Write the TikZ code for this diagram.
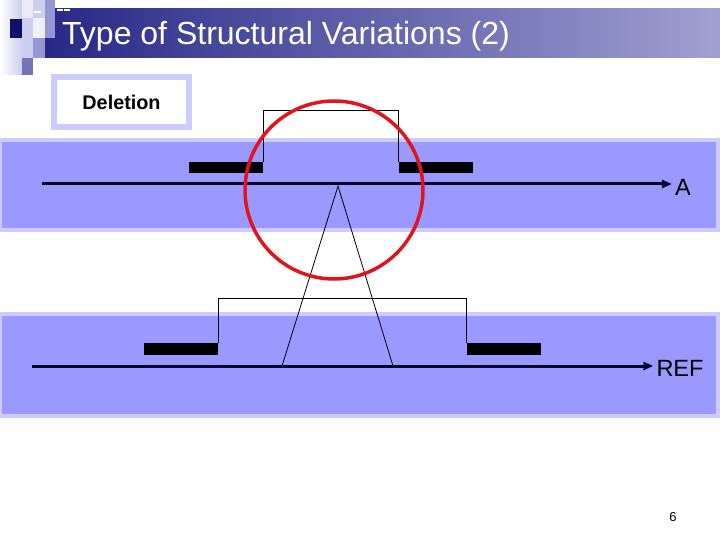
\documentclass[tikz,border=0pt]{standalone}
\usepackage{fontspec}
\setmainfont{Liberation Sans}
\usetikzlibrary{arrows.meta, positioning}

\definecolor{bandblue}{RGB}{153,153,255}
\definecolor{bandedge}{RGB}{204,204,255}
\definecolor{navy}{RGB}{15,15,110}
\definecolor{lavender}{RGB}{205,205,238}
\definecolor{midlav}{RGB}{150,150,210}
\definecolor{darklav}{RGB}{115,115,185}
\definecolor{circred}{RGB}{225,20,30}
\definecolor{titleleft}{RGB}{40,40,135}
\definecolor{titleright}{RGB}{160,160,210}

\begin{document}
\begin{tikzpicture}[
            x=1pt, y=-1pt,
            band/.style={draw=bandedge, line width=4pt, fill=bandblue},
            seq/.style={line width=3pt, draw=navy!40!black,
                -{Triangle[length=10pt,width=8pt]}},
            read/.style={fill=black, minimum width=74pt,
                minimum height=11.5pt, inner sep=0pt},
            link/.style={draw=black, line width=0.8pt},
            lab/.style={font=\fontsize{23.5}{26}\selectfont, inner sep=3pt}
        ]

        \useasboundingbox (0,0) rectangle (720,540);

        % title bar and corner tiles
        \shade[left color=titleleft, right color=titleright] (45,9) rectangle (720,58);
        \shade[left color=white, right color=lavender] (0,0) rectangle (22,75);
        \fill[navy] (10,19) rectangle (22,38);
        \fill[white!60!lavender] (22,0) rectangle (33,18);
        \fill[lavender] (33,0) rectangle (45,18);
        \fill[midlav] (45,0) rectangle (55,18);
        \fill[lavender] (22,18) rectangle (33,38);
        \fill[white!70!lavender] (33,18) rectangle (45,38);
        \fill[midlav] (45,18) rectangle (55,38);
        \fill[lavender] (22,38) rectangle (33,58);
        \fill[midlav] (33,38) rectangle (45,58);
        \fill[darklav] (22,58) rectangle (33,75);
        \fill[white] (34,11) rectangle (41,13);
        \fill[white] (57,9) rectangle (63,11);
        \fill[white] (64,9) rectangle (70,11);
        \node[anchor=west, text=white, inner sep=0pt,
            font=\fontsize{32}{35}\selectfont] (title) at (62,36)
            {Type of Structural Variations (2)};

        \node[draw=bandedge, line width=6pt, fill=white, minimum width=135pt,
            minimum height=50pt, font=\bfseries\fontsize{19.8}{22}\selectfont]
            (del) at (121.5,102) {Deletion};

        % the two sequences
        \path[band] (0,140) rectangle (718,230);
        \path[band] (0,314) rectangle (718,416);

        \node[read] (rdAl) at (226,167.5) {};
        \node[read] (rdAr) at (436,167.5) {};
        \node[read] (rdRl) at (181,349) {};
        \node[read] (rdRr) at (504,349) {};
        \draw[link] (rdAl.north east) -- ++(0,-51) -| (rdAr.north west);
        \draw[link] (rdRl.north east) -- ++(0,-45) -| (rdRr.north west);

        \coordinate (startA) at (42,184);
        \coordinate (startR) at (32,366);
        \node[lab] (labA) at (683,187) {A};
        \node[lab] (labR) at (680,368) {REF};
        \draw[seq] (startA) -- (startA -| labA.west);
        \draw[seq] (startR) -- (startR -| labR.west);

        \coordinate (apex) at (338,186);
        \coordinate (cutL) at (282,366);
        \coordinate (cutR) at (393,366);
        \draw[link] (cutL) -- (apex) -- (cutR);

        \node[circle, draw=circred, line width=3.5pt, minimum size=178pt]
            (focus) at (334,190) {};

        \node[font=\fontsize{13}{14}\selectfont] (page) at (673,517) {6};

    \end{tikzpicture}
\end{document}
